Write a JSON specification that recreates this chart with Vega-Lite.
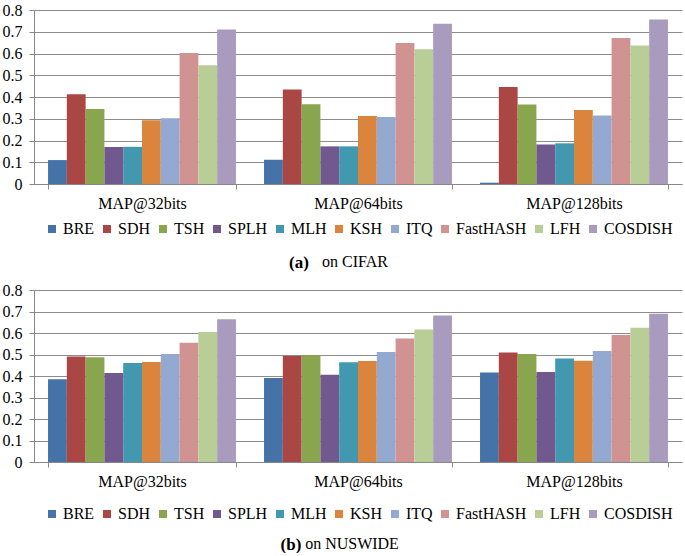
{
  "$schema": "https://vega.github.io/schema/vega-lite/v6.json",
  "padding": {"left": 2, "top": 2, "right": 2, "bottom": 0},
  "background": "white",
  "config": {
    "font": "Liberation Serif",
    "view": {"stroke": null},
    "axis": {
      "labelFont": "Liberation Serif",
      "labelFontSize": 16,
      "labelColor": "black",
      "domainColor": "#888888",
      "tickColor": "#888888",
      "gridColor": "#8c8c8c"
    },
    "legend": {
      "labelFont": "Liberation Serif",
      "labelFontSize": 16,
      "labelColor": "black",
      "symbolType": "square",
      "symbolSize": 64,
      "symbolStrokeWidth": 0,
      "labelOffset": 3,
      "columnPadding": 4,
      "orient": "bottom",
      "direction": "horizontal",
      "columns": 10,
      "offset": 10,
      "layout": {"bottom": {"anchor": "middle"}}
    },
    "title": {"font": "Liberation Serif", "fontSize": 16, "color": "black", "fontWeight": "normal"}
  },
  "datasets": {
    "d": [
      {"dataset": "CIFAR", "metric": "MAP@32bits", "method": "BRE", "value": 0.11},
      {"dataset": "CIFAR", "metric": "MAP@32bits", "method": "SDH", "value": 0.413},
      {"dataset": "CIFAR", "metric": "MAP@32bits", "method": "TSH", "value": 0.345},
      {"dataset": "CIFAR", "metric": "MAP@32bits", "method": "SPLH", "value": 0.17},
      {"dataset": "CIFAR", "metric": "MAP@32bits", "method": "MLH", "value": 0.171},
      {"dataset": "CIFAR", "metric": "MAP@32bits", "method": "KSH", "value": 0.293},
      {"dataset": "CIFAR", "metric": "MAP@32bits", "method": "ITQ", "value": 0.302},
      {"dataset": "CIFAR", "metric": "MAP@32bits", "method": "FastHASH", "value": 0.602},
      {"dataset": "CIFAR", "metric": "MAP@32bits", "method": "LFH", "value": 0.546},
      {"dataset": "CIFAR", "metric": "MAP@32bits", "method": "COSDISH", "value": 0.71},
      {"dataset": "CIFAR", "metric": "MAP@64bits", "method": "BRE", "value": 0.112},
      {"dataset": "CIFAR", "metric": "MAP@64bits", "method": "SDH", "value": 0.435},
      {"dataset": "CIFAR", "metric": "MAP@64bits", "method": "TSH", "value": 0.367},
      {"dataset": "CIFAR", "metric": "MAP@64bits", "method": "SPLH", "value": 0.173},
      {"dataset": "CIFAR", "metric": "MAP@64bits", "method": "MLH", "value": 0.173},
      {"dataset": "CIFAR", "metric": "MAP@64bits", "method": "KSH", "value": 0.313},
      {"dataset": "CIFAR", "metric": "MAP@64bits", "method": "ITQ", "value": 0.308},
      {"dataset": "CIFAR", "metric": "MAP@64bits", "method": "FastHASH", "value": 0.648},
      {"dataset": "CIFAR", "metric": "MAP@64bits", "method": "LFH", "value": 0.62},
      {"dataset": "CIFAR", "metric": "MAP@64bits", "method": "COSDISH", "value": 0.737},
      {"dataset": "CIFAR", "metric": "MAP@128bits", "method": "BRE", "value": 0.006},
      {"dataset": "CIFAR", "metric": "MAP@128bits", "method": "SDH", "value": 0.446},
      {"dataset": "CIFAR", "metric": "MAP@128bits", "method": "TSH", "value": 0.366},
      {"dataset": "CIFAR", "metric": "MAP@128bits", "method": "SPLH", "value": 0.182},
      {"dataset": "CIFAR", "metric": "MAP@128bits", "method": "MLH", "value": 0.187},
      {"dataset": "CIFAR", "metric": "MAP@128bits", "method": "KSH", "value": 0.34},
      {"dataset": "CIFAR", "metric": "MAP@128bits", "method": "ITQ", "value": 0.315},
      {"dataset": "CIFAR", "metric": "MAP@128bits", "method": "FastHASH", "value": 0.671},
      {"dataset": "CIFAR", "metric": "MAP@128bits", "method": "LFH", "value": 0.637},
      {"dataset": "CIFAR", "metric": "MAP@128bits", "method": "COSDISH", "value": 0.756},
      {"dataset": "NUSWIDE", "metric": "MAP@32bits", "method": "BRE", "value": 0.385},
      {"dataset": "NUSWIDE", "metric": "MAP@32bits", "method": "SDH", "value": 0.491},
      {"dataset": "NUSWIDE", "metric": "MAP@32bits", "method": "TSH", "value": 0.487},
      {"dataset": "NUSWIDE", "metric": "MAP@32bits", "method": "SPLH", "value": 0.414},
      {"dataset": "NUSWIDE", "metric": "MAP@32bits", "method": "MLH", "value": 0.46},
      {"dataset": "NUSWIDE", "metric": "MAP@32bits", "method": "KSH", "value": 0.465},
      {"dataset": "NUSWIDE", "metric": "MAP@32bits", "method": "ITQ", "value": 0.502},
      {"dataset": "NUSWIDE", "metric": "MAP@32bits", "method": "FastHASH", "value": 0.555},
      {"dataset": "NUSWIDE", "metric": "MAP@32bits", "method": "LFH", "value": 0.605},
      {"dataset": "NUSWIDE", "metric": "MAP@32bits", "method": "COSDISH", "value": 0.664},
      {"dataset": "NUSWIDE", "metric": "MAP@64bits", "method": "BRE", "value": 0.391},
      {"dataset": "NUSWIDE", "metric": "MAP@64bits", "method": "SDH", "value": 0.493},
      {"dataset": "NUSWIDE", "metric": "MAP@64bits", "method": "TSH", "value": 0.496},
      {"dataset": "NUSWIDE", "metric": "MAP@64bits", "method": "SPLH", "value": 0.406},
      {"dataset": "NUSWIDE", "metric": "MAP@64bits", "method": "MLH", "value": 0.464},
      {"dataset": "NUSWIDE", "metric": "MAP@64bits", "method": "KSH", "value": 0.47},
      {"dataset": "NUSWIDE", "metric": "MAP@64bits", "method": "ITQ", "value": 0.512},
      {"dataset": "NUSWIDE", "metric": "MAP@64bits", "method": "FastHASH", "value": 0.574},
      {"dataset": "NUSWIDE", "metric": "MAP@64bits", "method": "LFH", "value": 0.616},
      {"dataset": "NUSWIDE", "metric": "MAP@64bits", "method": "COSDISH", "value": 0.681},
      {"dataset": "NUSWIDE", "metric": "MAP@128bits", "method": "BRE", "value": 0.416},
      {"dataset": "NUSWIDE", "metric": "MAP@128bits", "method": "SDH", "value": 0.509},
      {"dataset": "NUSWIDE", "metric": "MAP@128bits", "method": "TSH", "value": 0.502},
      {"dataset": "NUSWIDE", "metric": "MAP@128bits", "method": "SPLH", "value": 0.419},
      {"dataset": "NUSWIDE", "metric": "MAP@128bits", "method": "MLH", "value": 0.481},
      {"dataset": "NUSWIDE", "metric": "MAP@128bits", "method": "KSH", "value": 0.471},
      {"dataset": "NUSWIDE", "metric": "MAP@128bits", "method": "ITQ", "value": 0.516},
      {"dataset": "NUSWIDE", "metric": "MAP@128bits", "method": "FastHASH", "value": 0.591},
      {"dataset": "NUSWIDE", "metric": "MAP@128bits", "method": "LFH", "value": 0.625},
      {"dataset": "NUSWIDE", "metric": "MAP@128bits", "method": "COSDISH", "value": 0.69}
    ]
  },
  "spacing": 11,
  "vconcat": [
    {
      "title": {"text": "on CIFAR", "orient": "bottom", "anchor": "middle", "font": "Liberation Serif", "fontWeight": "normal", "fontSize": 16, "offset": -17, "dx": 13},
      "resolve": {"legend": {"color": "independent"}, "scale": {"color": "independent"}},
      "vconcat": [
        {
          "title": {"text": "(a)", "orient": "bottom", "anchor": "middle", "font": "Liberation Serif", "fontWeight": "bold", "fontSize": 17, "offset": 18, "dx": -43},
          "resolve": {"legend": {"color": "independent"}, "scale": {"color": "independent"}},
          "vconcat": [
            {
              "width": 648,
              "height": 174,
              "data": {"name": "d"},
              "transform": [{"filter": "datum.dataset == 'CIFAR'"}],
              "mark": {"type": "bar"},
              "encoding": {
                "x": {"field": "metric", "type": "nominal", "sort": ["MAP@32bits", "MAP@64bits", "MAP@128bits"],
                  "scale": {"paddingInner": 0.13, "paddingOuter": 0.065},
                  "axis": {"title": null, "labelAngle": 0, "tickBand": "extent", "tickSize": 5, "labelPadding": 6, "grid": false, "labelFont": "Liberation Serif", "labelFontSize": 16}},
                "xOffset": {"field": "method", "type": "nominal", "sort": ["BRE", "SDH", "TSH", "SPLH", "MLH", "KSH", "ITQ", "FastHASH", "LFH", "COSDISH"], "scale": {"paddingInner": 0, "paddingOuter": 0}},
                "y": {"field": "value", "type": "quantitative", "scale": {"domain": [0, 0.8], "nice": false},
                  "axis": {"title": null, "values": [0, 0.1, 0.2, 0.3, 0.4, 0.5, 0.6, 0.7, 0.8], "format": "~g", "tickSize": 5, "labelPadding": 7, "grid": true, "labelFont": "Liberation Serif", "labelFontSize": 16}},
                "color": {"field": "method", "type": "nominal",
                  "scale": {"domain": ["BRE", "SDH", "TSH", "SPLH", "MLH", "KSH", "ITQ", "FastHASH", "LFH", "COSDISH"],
                    "range": ["#4572A7", "#AA4643", "#89A54E", "#71588F", "#4198AF", "#DB843D", "#93A9CF", "#D19392", "#B9CD96", "#A99BBD"]},
                  "legend": {"title": null, "labelFont": "Liberation Serif", "offset": 10}}
              }
            }
          ]
        }
      ]
    },
    {
      "title": {"text": "on NUSWIDE", "orient": "bottom", "anchor": "middle", "font": "Liberation Serif", "fontWeight": "normal", "fontSize": 16, "offset": -17, "dx": 10},
      "resolve": {"legend": {"color": "independent"}, "scale": {"color": "independent"}},
      "vconcat": [
        {
          "title": {"text": "(b)", "orient": "bottom", "anchor": "middle", "font": "Liberation Serif", "fontWeight": "bold", "fontSize": 17, "offset": 15, "dx": -51},
          "resolve": {"legend": {"color": "independent"}, "scale": {"color": "independent"}},
          "vconcat": [
            {
              "width": 648,
              "height": 172,
              "data": {"name": "d"},
              "transform": [{"filter": "datum.dataset == 'NUSWIDE'"}],
              "mark": {"type": "bar"},
              "encoding": {
                "x": {"field": "metric", "type": "nominal", "sort": ["MAP@32bits", "MAP@64bits", "MAP@128bits"],
                  "scale": {"paddingInner": 0.13, "paddingOuter": 0.065},
                  "axis": {"title": null, "labelAngle": 0, "tickBand": "extent", "tickSize": 5, "labelPadding": 6, "grid": false, "labelFont": "Liberation Serif", "labelFontSize": 16}},
                "xOffset": {"field": "method", "type": "nominal", "sort": ["BRE", "SDH", "TSH", "SPLH", "MLH", "KSH", "ITQ", "FastHASH", "LFH", "COSDISH"], "scale": {"paddingInner": 0, "paddingOuter": 0}},
                "y": {"field": "value", "type": "quantitative", "scale": {"domain": [0, 0.8], "nice": false},
                  "axis": {"title": null, "values": [0, 0.1, 0.2, 0.3, 0.4, 0.5, 0.6, 0.7, 0.8], "format": "~g", "tickSize": 5, "labelPadding": 7, "grid": true, "labelFont": "Liberation Serif", "labelFontSize": 16}},
                "color": {"field": "method", "type": "nominal",
                  "scale": {"domain": ["BRE", "SDH", "TSH", "SPLH", "MLH", "KSH", "ITQ", "FastHASH", "LFH", "COSDISH"],
                    "range": ["#4572A7", "#AA4643", "#89A54E", "#71588F", "#4198AF", "#DB843D", "#93A9CF", "#D19392", "#B9CD96", "#A99BBD"]},
                  "legend": {"title": null, "labelFont": "Liberation Serif", "offset": 17}}
              }
            }
          ]
        }
      ]
    }
  ],
  "resolve": {"legend": {"color": "independent"}, "scale": {"color": "independent"}}
}
